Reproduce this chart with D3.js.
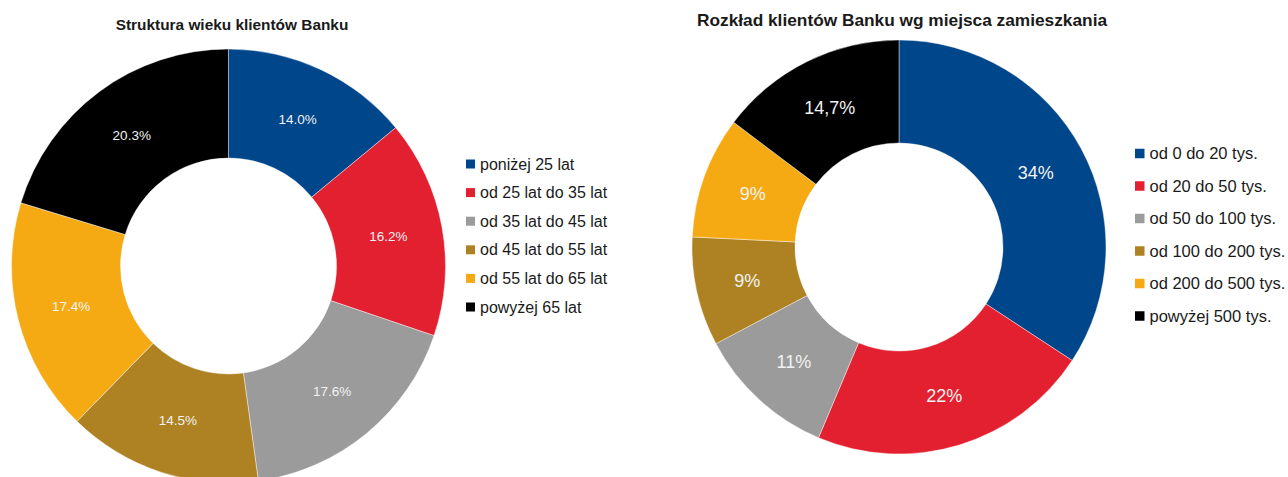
<!DOCTYPE html>
<html><head><meta charset="utf-8">
<script src="https://cdn.jsdelivr.net/npm/d3@7"></script>
<style>body{margin:0;background:#fff}svg{display:block}text{font-family:"Liberation Sans",Arial,sans-serif}</style>
</head><body>
<svg id="c" width="1288" height="477"></svg>
<script>
const colors = ["#00468b","#e3202f","#9b9b9b","#ae8223","#f5aa14","#000000"];

const ageTitle = "Struktura wieku klientów Banku";
const ageCategories = ["poniżej 25 lat","od 25 lat do 35 lat","od 35 lat do 45 lat","od 45 lat do 55 lat","od 55 lat do 65 lat","powyżej 65 lat"];
const ageValues = [14.0, 16.2, 17.6, 14.5, 17.4, 20.3];
const ageLabels = ["14.0%","16.2%","17.6%","14.5%","17.4%","20.3%"];

const cityTitle = "Rozkład klientów Banku wg miejsca zamieszkania";
const cityCategories = ["od 0 do 20 tys.","od 20 do 50 tys.","od 50 do 100 tys.","od 100 do 200 tys.","od 200 do 500 tys.","powyżej 500 tys."];
const cityValues = [34.2, 22.1, 10.9, 8.5, 9.5, 14.7];
const cityLabels = ["34%","22%","11%","9%","9%","14,7%"];

const svg = d3.select("#c");

function donut(cfg){
  const g = svg.append("g");
  g.append("text").attr("x", cfg.titleX).attr("y", cfg.titleY)
    .attr("text-anchor","middle").attr("font-weight","bold")
    .attr("font-size", cfg.titleSize).attr("fill","#1a1a1a").text(cfg.title);
  const pie = d3.pie().sort(null).value(d => d)(cfg.values);
  const arc = d3.arc().innerRadius(cfg.r0).outerRadius(cfg.r1);
  const cg = g.append("g").attr("transform", `translate(${cfg.cx},${cfg.cy})`);
  cg.selectAll("path").data(pie).join("path")
    .attr("d", arc).attr("fill", (d,i) => colors[i])
    .attr("stroke","#ffffff").attr("stroke-width",0.6).attr("stroke-opacity",0.7);
  cg.selectAll("text").data(pie).join("text")
    .attr("transform", d => `translate(${arc.centroid(d)})`)
    .attr("text-anchor","middle").attr("dy","0.35em")
    .attr("font-size", cfg.labelSize).attr("fill","#f2f2f2")
    .text((d,i) => cfg.labels[i]);
  const y = d3.scalePoint().domain(cfg.categories).range([cfg.legY0, cfg.legY1]);
  const lg = g.append("g");
  const items = lg.selectAll("g").data(cfg.categories).join("g")
    .attr("transform", d => `translate(${cfg.legX},${y(d)})`);
  items.append("rect").attr("x",0).attr("y",-cfg.sq/2).attr("width",cfg.sq).attr("height",cfg.sq)
    .attr("fill",(d,i)=>colors[i]);
  items.append("text").attr("x", cfg.sq + 5).attr("dy","0.35em")
    .attr("font-size", cfg.legSize).attr("fill","#1a1a1a").text(d => d);
}

donut({title: ageTitle, titleX: 232, titleY: 30, titleSize: 15.4,
  values: ageValues, labels: ageLabels, categories: ageCategories,
  cx: 228.5, cy: 266, r0: 108, r1: 217, labelSize: 13.5,
  legX: 466, legY0: 164, legY1: 307, sq: 9, legSize: 16});

donut({title: cityTitle, titleX: 902, titleY: 26, titleSize: 17.3,
  values: cityValues, labels: cityLabels, categories: cityCategories,
  cx: 899, cy: 247, r0: 104, r1: 207, labelSize: 18,
  legX: 1135, legY0: 153.5, legY1: 316, sq: 9.5, legSize: 16.5});
</script>
</body></html>
